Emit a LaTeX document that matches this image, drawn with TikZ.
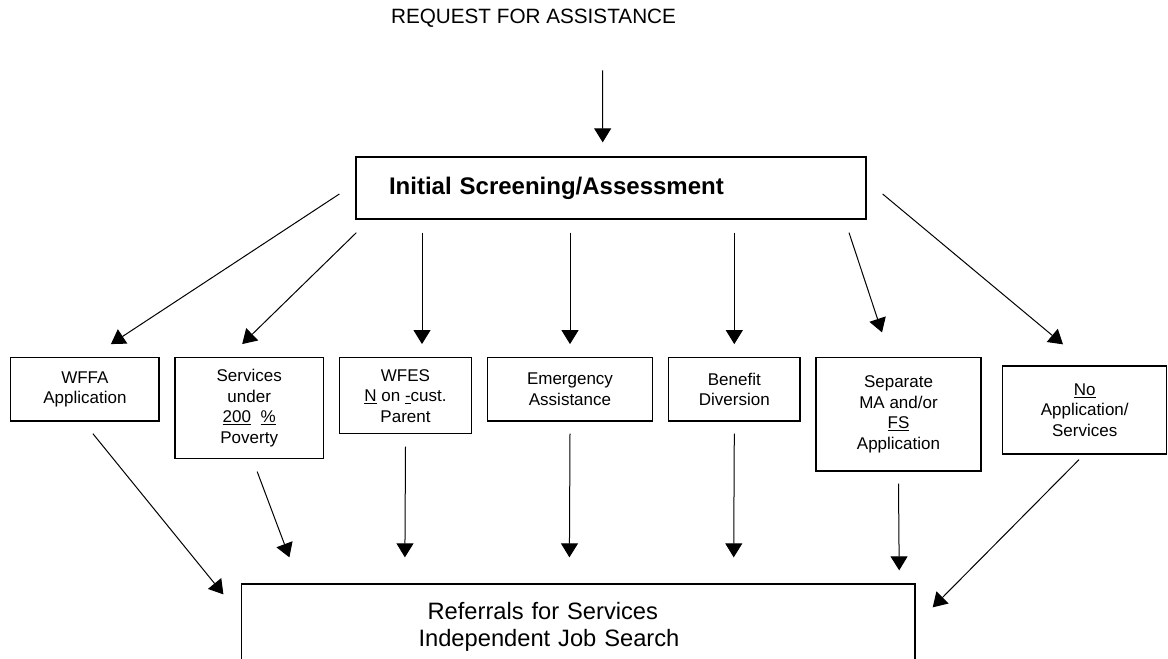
\documentclass[tikz,border=0pt]{standalone}
\usepackage{fontspec}
\setmainfont{Liberation Sans}
\usepackage{tikz}
\usetikzlibrary{arrows.meta}
\tikzstyle{rectblock} = [rectangle, draw, line width=1.3pt, inner sep=0pt, align=center]
\tikzstyle{block} = [rectblock, font=\fontsize{17}{20.5}\selectfont]
\tikzstyle{arrow} = [draw, -{Triangle[length=14pt, width=17pt]}, line width=1pt]

\begin{document}
\begin{tikzpicture}[x=1pt, y=-1pt]
    \useasboundingbox (0, 0) rectangle (1168, 659);
    \clip (0, 0) rectangle (1168, 659);

    \node[anchor=base, font=\fontsize{20.7}{25}\selectfont] at (533.5, 23) (request) {REQUEST FOR ASSISTANCE};

    \node[rectblock, minimum width=510, minimum height=62, text width=444, inner xsep=33pt, align=left, font=\bfseries\fontsize{24}{29}\selectfont] at (611, 188) (screening) {Initial Screening/Assessment};
    \path[arrow] ([xshift=69pt, yshift=-40pt]request.south) to ([xshift=-8.3pt, yshift=14pt]screening.north);

    % choices after screening
    \node[block, minimum width=148.3, minimum height=63.3] at (84.9, 389.4) (wffa) {WFFA\\Application};
    \node[block, minimum width=148.4, minimum height=100.6] at (249.2, 408) (poverty) {Services\\under\\\underline{200}\ \ \underline{\%}\\Poverty};
    \node[block, minimum width=132, minimum height=76] at (405.5, 395.7) (wfes) {WFES\\\underline{N} on \underline{-}cust.\\Parent};
    \node[block, minimum width=164.8, minimum height=63.3] at (570, 389.4) (emergency) {Emergency\\Assistance};
    \node[block, minimum width=131.5, minimum height=63.3] at (734.3, 389.4) (diversion) {Benefit\\Diversion};
    \node[block, minimum width=165, minimum height=113.3] at (898.5, 414.4) (separate) {Separate\\MA and/or\\\underline{FS}\\Application};
    \node[block, minimum width=164, minimum height=88] at (1084.7, 410) (noapp) {\underline{No}\\Application/\\Services};

    \path[arrow] ([shift={(-16pt, -6pt)}]screening.west) to ([shift={(26pt, 13pt)}]wffa.north);
    \path[arrow] ([shift={(1pt, -13pt)}]screening.south west) to ([shift={(-7pt, 13pt)}]poverty.north);
    \path[arrow] ([shift={(-189pt, -13pt)}]screening.south) to ([shift={(16.5pt, 13pt)}]wfes.north);
    \path[arrow] ([shift={(-41pt, -13pt)}]screening.south) to ([yshift=13pt]emergency.north);
    \path[arrow] ([shift={(123.3pt, -13pt)}]screening.south) to ([yshift=13pt]diversion.north);
    \path[arrow] ([shift={(238pt, -13pt)}]screening.south) to ([shift={(-16.5pt, 24.7pt)}]separate.north);
    \path[arrow] ([shift={(16pt, -6pt)}]screening.east) to ([shift={(-21.7pt, 21pt)}]noapp.north);

    \node[rectblock, minimum width=673.5, minimum height=86, text width=319.5, inner xsep=177pt, align=left, font=\fontsize{23.7}{27}\selectfont] at (578.3, 627) (referrals) {\hspace*{9pt}Referrals for Services\\Independent Job Search};

    \path[arrow] ([shift={(8pt, -12pt)}]wffa.south) to ([shift={(-17.5pt, -11pt)}]referrals.north west);
    \path[arrow] ([shift={(8pt, -12.7pt)}]poverty.south) to ([shift={(48.5pt, 26pt)}]referrals.north west);
    \path[arrow] ([yshift=-12.3pt]wfes.south) to ([shift={(164pt, 26pt)}]referrals.north west);
    \path[arrow] ([yshift=-12pt]emergency.south) to ([shift={(328.5pt, 26pt)}]referrals.north west);
    \path[arrow] ([yshift=-12pt]diversion.south) to ([shift={(492.8pt, 26pt)}]referrals.north west);
    \path[arrow] ([yshift=-12pt]separate.south) to ([shift={(-16.5pt, 13pt)}]referrals.north east);
    \path[arrow] ([shift={(-5.7pt, -5pt)}]noapp.south) to ([shift={(17pt, -24pt)}]referrals.north east);

\end{tikzpicture}
\end{document}
